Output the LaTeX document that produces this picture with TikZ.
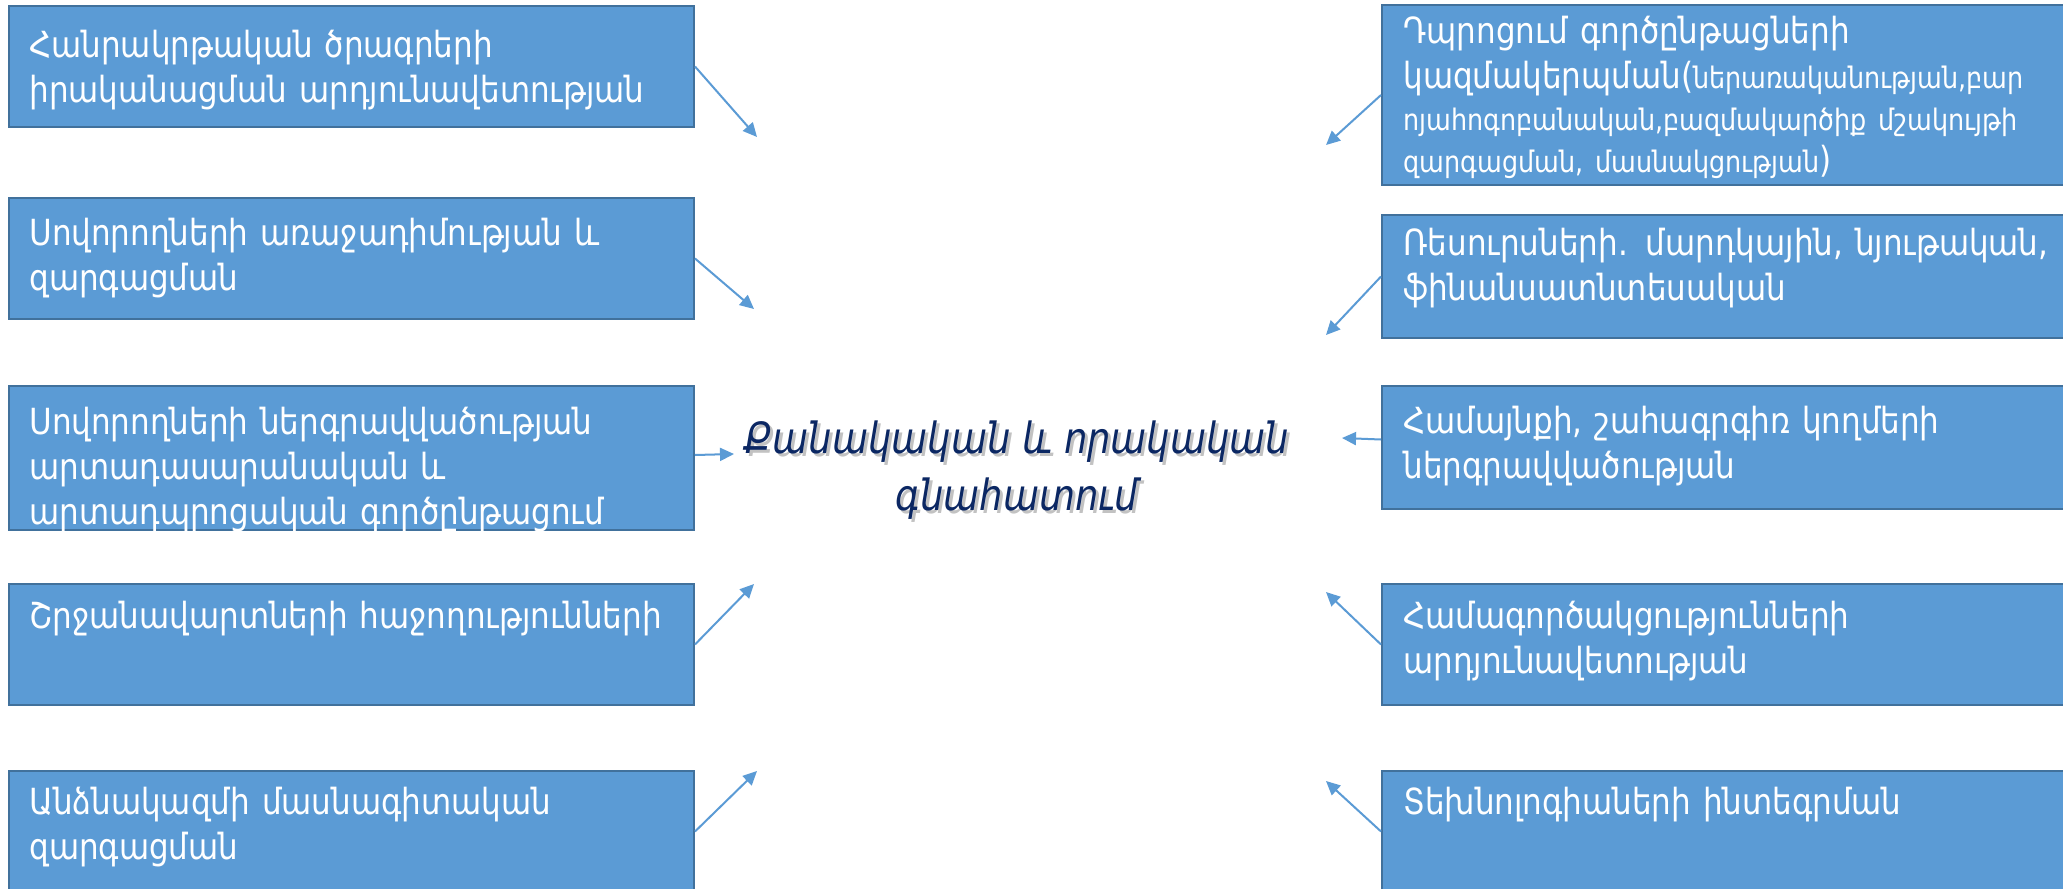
\documentclass[tikz,border=0pt]{standalone}
\usepackage{fontspec}
\setmainfont{DejaVu Sans}[FakeStretch=0.86]
\usetikzlibrary{arrows.meta,calc}
\definecolor{boxfill}{HTML}{5B9BD5}
\definecolor{boxline}{HTML}{41719C}
\definecolor{navy}{HTML}{0B2763}
\definecolor{shadowgray}{HTML}{9A9A9A}
\begin{document}
\begin{tikzpicture}[x=0.5pt,y=-0.5pt,
  box/.style={draw=boxline, line width=1pt, fill=boxfill, minimum width=342.5pt, minimum height=60.5pt, inner sep=0pt, anchor=north west},
  lbl/.style={anchor=north west, inner sep=0pt, text height=0pt, text width=400pt, align=left, text=white, font=\fontsize{18}{22.5}\selectfont},
  conn/.style={draw=boxfill, line width=1pt, -{Triangle[length=7pt,width=6.5pt]}},
  ctext/.style={align=center, font=\fontsize{21.5}{28.5}\selectfont\itshape}
]
\useasboundingbox (0,0) rectangle (2063,889);
\clip (0,0) rectangle (2063,889);
\fill[white] (0,0) rectangle (2063,889);

% left boxes
\node[box] (L1) at (8,5) {};
\node[box] (L2) at (8,197) {};
\node[box, minimum height=72pt] (L3) at (8,385) {};
\node[box] (L4) at (8,583) {};
\node[box] (L5) at (8,770) {};
% right boxes
\node[box, minimum height=90pt] (R1) at (1381,4) {};
\node[box, minimum height=61.5pt] (R2) at (1381,214) {};
\node[box, minimum height=61.5pt] (R3) at (1381,385) {};
\node[box] (R4) at (1381,583) {};
\node[box] (R5) at (1381,770) {};

% labels
\node[lbl] (L1t) at ($(L1.north west)+(21,52)$) {Հանրակրթական ծրագրերի\\իրականացման արդյունավետության};
\node[lbl] (L2t) at ($(L2.north west)+(21,48)$) {Սովորողների առաջադիմության և\\զարգացման};
\node[lbl] (L3t) at ($(L3.north west)+(21,49)$) {Սովորողների ներգրավվածության\\արտադասարանական և\\արտադպրոցական գործընթացում};
\node[lbl] (L4t) at ($(L4.north west)+(21,45)$) {Շրջանավարտների հաջողությունների};
\node[lbl] (L5t) at ($(L5.north west)+(21,44)$) {Անձնակազմի մասնագիտական\\զարգացման};

\node[lbl, font=\fontsize{18}{21}\selectfont] (R1t) at ($(R1.north west)+(22,39)$) {Դպրոցում գործընթացների\\[1.5pt]կազմակերպման({\fontsize{14.8}{21}\selectfont ներառականության,բար}\\{\fontsize{14.8}{21}\selectfont ոյահոգոբանական,բազմակարծիք մշակույթի}\\{\fontsize{14.8}{21}\selectfont զարգացման, մասնակցության})};
\node[lbl] (R2t) at ($(R2.north west)+(22,41)$) {Ռեսուրսների. մարդկային, նյութական,\\ֆինանսատնտեսական};
\node[lbl] (R3t) at ($(R3.north west)+(22,48)$) {Համայնքի, շահագրգիռ կողմերի\\ներգրավվածության};
\node[lbl] (R4t) at ($(R4.north west)+(22,45)$) {Համագործակցությունների\\արդյունավետության};
\node[lbl] (R5t) at ($(R5.north west)+(22,44)$) {Տեխնոլոգիաների ինտեգրման};

% centre
\node[ctext, text=shadowgray, opacity=0.6] (Cs) at (1020,473) {Քանակական և որակական\\գնահատում};
\node[ctext, text=navy] (C) at (1017,470) {Քանակական և որակական\\գնահատում};

% arrow tips
\coordinate (a1) at (757,137);
\coordinate (a2) at (754,309);
\coordinate (a3) at (734,454);
\coordinate (a4) at (754,584);
\coordinate (a5) at (757,771);
\coordinate (b1) at (1326,145);
\coordinate (b2) at (1326,335);
\coordinate (b3) at (1342,438);
\coordinate (b4) at (1326,592);
\coordinate (b5) at (1326,781);

\draw[conn] (L1.east) -- (a1);
\draw[conn] (L2.east) -- (a2);
\draw[conn] ($(L3.east)+(0,-3)$) -- (a3);
\draw[conn] (L4.east) -- (a4);
\draw[conn] (L5.east) -- (a5);
\draw[conn] (R1.west) -- (b1);
\draw[conn] (R2.west) -- (b2);
\draw[conn] ($(R3.west)+(0,-8)$) -- (b3);
\draw[conn] (R4.west) -- (b4);
\draw[conn] (R5.west) -- (b5);
\end{tikzpicture}
\end{document}
